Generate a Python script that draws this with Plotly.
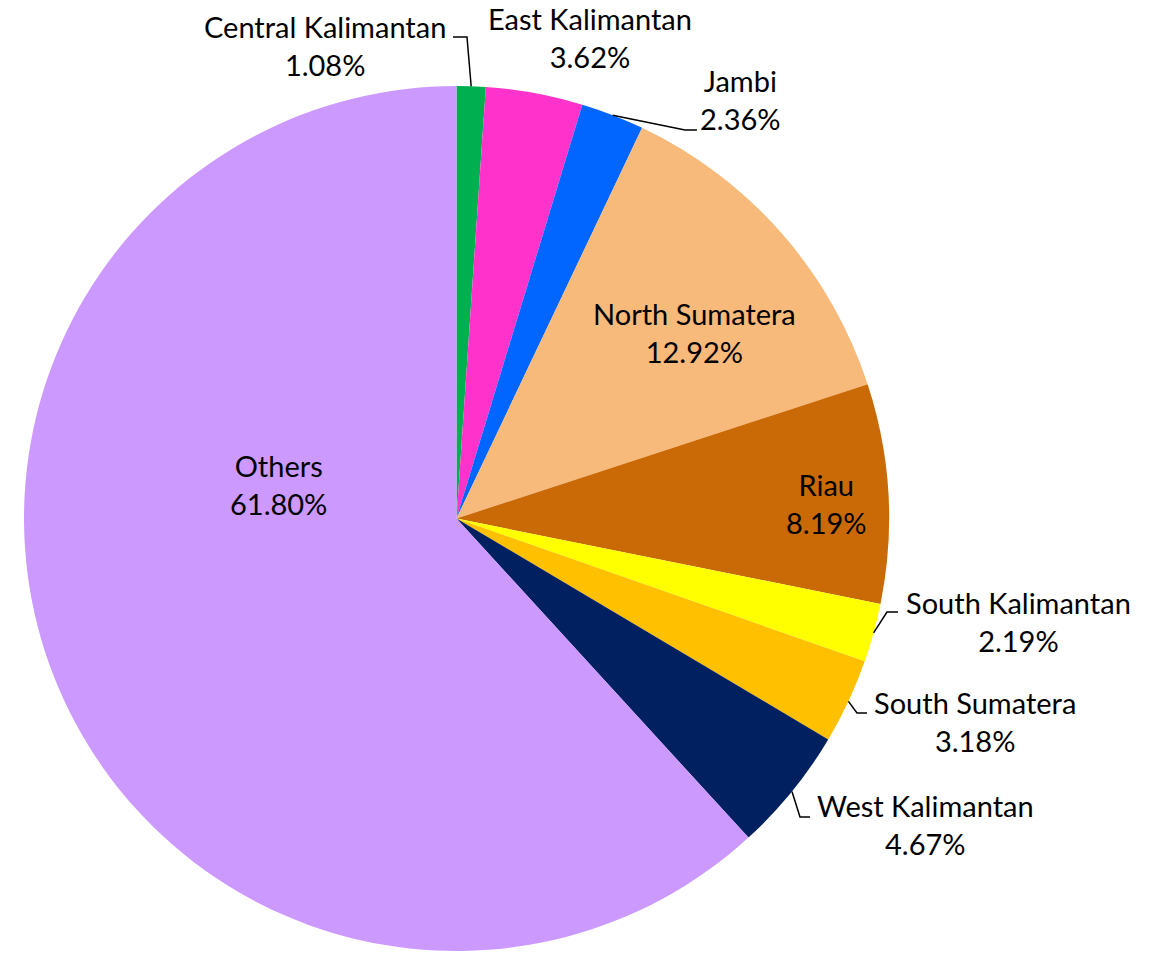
import math
import plotly.graph_objects as go

# ---- data ----
regions = ["Central Kalimantan", "East Kalimantan", "Jambi", "North Sumatera", "Riau",
           "South Kalimantan", "South Sumatera", "West Kalimantan", "Others"]
shares = [1.08, 3.62, 2.36, 12.92, 8.19, 2.19, 3.18, 4.67, 61.80]
pct_labels = ["1.08%", "3.62%", "2.36%", "12.92%", "8.19%", "2.19%", "3.18%", "4.67%", "61.80%"]
colors = ["#00B050", "#FF33CC", "#0066FF", "#F8BA7A", "#C96A07",
          "#FFFF00", "#FFC000", "#002060", "#CC99FF"]

# ---- layout constants (pixels) ----
W, H = 1159, 953
CX, CY, R = 456.5, 518.5, 432.5
FONT = "Lato"
FSIZE = 29

# label centres (pixels) and leader-line elbow/end (pixels); None = no leader
label_pos = {
    "Central Kalimantan": (325, 45),
    "East Kalimantan": (590, 38),
    "Jambi": (740, 99),
    "North Sumatera": (694, 332),
    "Riau": (826, 503),
    "South Kalimantan": (1018, 621),
    "South Sumatera": (975, 721),
    "West Kalimantan": (925, 824),
    "Others": (278, 484),
}
leaders = {
    "Central Kalimantan": [(467, 37), (453, 37)],
    "Jambi": [(685, 130), (697, 130)],
    "South Kalimantan": [(887, 612), (898, 612)],
    "South Sumatera": [(857, 713), (867, 713)],
    "West Kalimantan": [(800, 817), (810, 817)],
}


def px(x, y):
    return x / W, 1 - y / H


fig = go.Figure(go.Pie(
    labels=regions, values=shares, sort=False, direction="clockwise", rotation=0,
    marker=dict(colors=colors, line=dict(width=0)),
    textinfo="none", hoverinfo="label+percent", showlegend=False,
    domain=dict(x=[(CX - R) / W, (CX + R) / W], y=[1 - (CY + R) / H, 1 - (CY - R) / H]),
))

total = sum(shares)
cum = 0.0
annotations = []
shapes = []
for name, v, pl in zip(regions, shares, pct_labels):
    mid = (cum + v / 2) / total * 2 * math.pi
    cum += v
    lx, ly = label_pos[name]
    ax, ay = px(lx, ly)
    annotations.append(dict(
        x=ax, y=ay, xref="paper", yref="paper", xanchor="center", yanchor="middle",
        text=f"{name}<br>{pl}", showarrow=False, align="center",
        font=dict(family=FONT, size=FSIZE, color="black"),
    ))
    if name in leaders:
        sx, sy = CX + R * math.sin(mid), CY - R * math.cos(mid)
        pts = [(sx, sy)] + leaders[name]
        path = "M " + " L ".join(f"{px(x, y)[0]:.5f},{px(x, y)[1]:.5f}" for x, y in pts)
        shapes.append(dict(type="path", xref="paper", yref="paper", path=path,
                           line=dict(color="black", width=1.5)))

fig.update_layout(
    width=W, height=H, margin=dict(l=0, r=0, t=0, b=0),
    paper_bgcolor="white", plot_bgcolor="white",
    annotations=annotations, shapes=shapes,
)

fig.write_html("out.html")
